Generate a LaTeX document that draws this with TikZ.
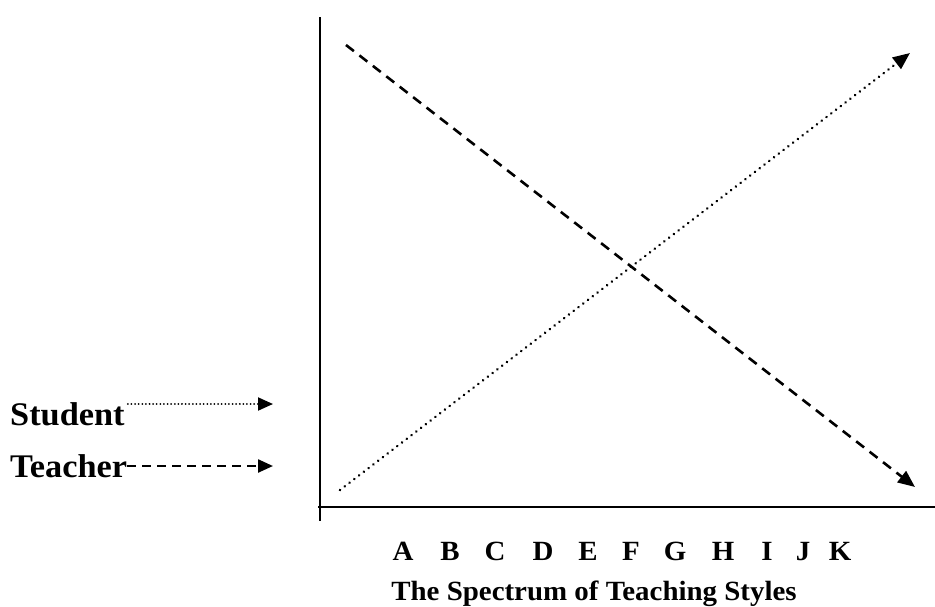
\documentclass[tikz,border=0pt]{standalone}
\usepackage{fontspec}
\setmainfont{Liberation Serif}[FakeStretch=1.04]
\usetikzlibrary{arrows.meta}
\begin{document}
\begin{tikzpicture}[x=1pt,y=-1pt,
  axis/.style={line width=2.6pt},
  teach/.style={line width=2.6pt,dash pattern=on 10pt off 7pt,-{Triangle[length=17pt,width=14pt]}},
  stud/.style={line width=2.8pt,dash pattern=on 0.01pt off 6pt,line cap=round,-{Triangle[length=17pt,width=14pt,line cap=butt]}},
  lbl/.style={font=\bfseries\fontsize{33}{33}\selectfont,inner sep=0pt,anchor=base west},
  letter/.style={font=\bfseries\fontsize{27.8}{28}\selectfont,inner sep=0pt,anchor=base},
  every node/.style={text=black}]
\useasboundingbox (0,0) rectangle (935,606);
% axes
\coordinate (ytop) at (320,17);
\coordinate (ybot) at (320,521);
\coordinate (xl) at (318,507);
\coordinate (xr) at (935,507);
\draw[axis] (ytop) -- (ybot);
\draw[axis] (xl) -- (xr);
% main lines
\coordinate (ts) at (346,45);
\coordinate (te) at (915,487);
\coordinate (ss) at (340,490);
\coordinate (se) at (910,53);
\draw[teach] (ts) -- (te);
\draw[stud] (ss) -- (se);
% legend
\node[lbl] (student) at (10,425) {Student};
\node[lbl] (teacher) at (10,477) {Teacher};
\coordinate (sl) at (273,404);
\coordinate (tl) at (273,466);
\draw[stud,line width=2pt,dash pattern=on 0.01pt off 3.6pt,-{Triangle[length=15pt,width=13pt,line cap=butt]}] ([xshift=3pt]student.base east |- sl) -- (sl);
\draw[teach,line width=2.4pt,dash pattern=on 9pt off 6pt,-{Triangle[length=15pt,width=13pt]}] (teacher.base east |- tl) -- (tl);
% letters
\foreach \l/\x in {A/403,B/450,C/495,D/543,E/588,F/631,G/675,H/723,I/767,J/803,K/840}
  \node[letter] (l\l) at (\x,560) {\l};
\node[letter] (title) at (594,600) {The Spectrum of Teaching Styles};
\end{tikzpicture}
\end{document}
